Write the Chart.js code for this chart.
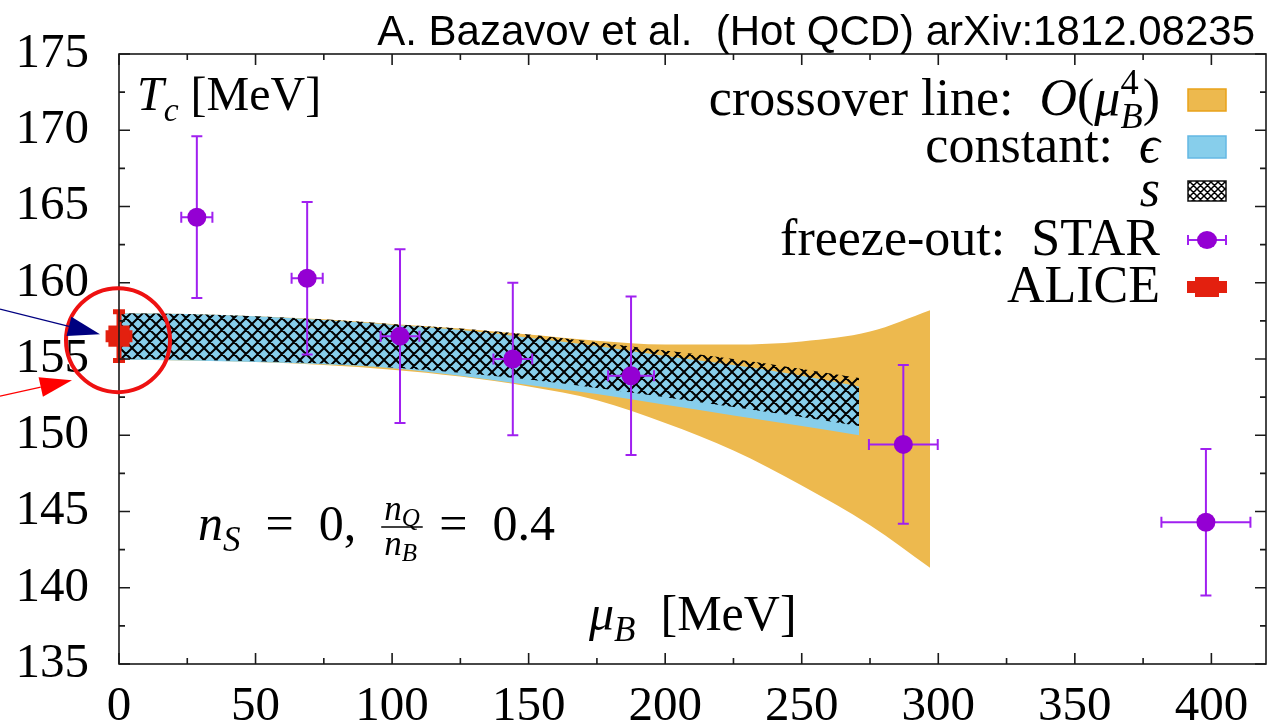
<!DOCTYPE html>
<html>
<head>
<meta charset="utf-8">
<script src="https://cdn.jsdelivr.net/npm/chart.js@4.4.0/dist/chart.umd.min.js"></script>
<style>
  html, body { margin: 0; padding: 0; background: #fff; }
  canvas { display: block; }
</style>
</head>
<body>
<canvas id="chart" width="1274" height="727"></canvas>
<script>
// axis ticks
const xTicks = [0, 50, 100, 150, 200, 250, 300, 350, 400];
const xMinor = [25, 75, 125, 175, 225, 275, 325, 375];
const yTicks = [135, 140, 145, 150, 155, 160, 165, 170, 175];
const yMinor = [137.5, 142.5, 147.5, 152.5, 157.5, 162.5, 167.5, 172.5];

// crossover line O(mu_B^4) band
const orangeMu = [0, 25, 50, 75, 100, 125, 150, 175, 200, 225, 250, 275, 297];
const orangeHi = [158.0, 157.95, 157.8, 157.6, 157.3, 157.0, 156.6, 156.2, 155.95, 155.95, 156.15, 156.8, 158.2];
const orangeLo = [154.95, 154.9, 154.8, 154.6, 154.3, 153.85, 153.2, 152.3, 150.8, 149.0, 146.7, 144.1, 141.3];

// constant epsilon and constant s bands
const bandMu = [0, 25, 50, 75, 100, 125, 150, 175, 200, 225, 250, 271];
const epsHi = [158.0, 157.95, 157.8, 157.55, 157.25, 156.9, 156.4, 155.85, 155.2, 154.6, 153.9, 153.2];
const epsLo = [154.95, 154.9, 154.8, 154.65, 154.4, 153.9, 153.3, 152.7, 152.0, 151.3, 150.6, 150.0];
const sHi = [158.0, 157.95, 157.8, 157.6, 157.3, 157.0, 156.6, 156.1, 155.55, 155.0, 154.35, 153.75];
const sLo = [155.0, 154.95, 154.85, 154.7, 154.45, 154.1, 153.65, 153.1, 152.5, 151.85, 151.2, 150.6];

// freeze-out: STAR
const starMu = [28.5, 68.9, 102.9, 144.2, 187.5, 287.2, 398.0];
const starT = [164.3, 160.3, 156.5, 155.0, 153.9, 149.4, 144.3];
const starMuErr = [5.7, 5.7, 7.1, 7.1, 8.4, 12.6, 16.3];
const starTErr = [5.3, 5.0, 5.7, 5.0, 5.2, 5.2, 4.8];

// ALICE
const aliceMu = [0];
const aliceT = [156.5];
const aliceMuErr = [4];
const aliceTErr = [1.6];

const SERIF = "'Liberation Serif', 'DejaVu Serif', serif";
const ORANGE = '#edb94e';
const BLUE = '#87ceeb';
const PURPLE = '#9400d3';
const BAR_PURPLE = '#a020f0';
const RED = '#e3200f';

const pts = (xs, ys) => xs.map((x, i) => ({ x: x, y: ys[i] }));

function makeHatch(size, lw) {
  const c = document.createElement('canvas');
  c.width = size; c.height = size;
  const g = c.getContext('2d');
  g.strokeStyle = '#000';
  g.lineWidth = lw;
  g.beginPath();
  for (const k of [-size, 0, size]) {
    g.moveTo(k, 0); g.lineTo(k + size, size);
    g.moveTo(k + size, 0); g.lineTo(k, size);
  }
  g.stroke();
  return g.createPattern(c, 'repeat');
}
const hatch = makeHatch(12, 2);

function band(data, extra) {
  return Object.assign({
    data: data,
    borderWidth: 0,
    pointRadius: 0,
    cubicInterpolationMode: 'monotone',
    fill: false
  }, extra);
}

// draw a run of pieces (italic / smaller / shifted)
function drawRuns(ctx, runs, x, base, size, align) {
  const items = runs.map(r => {
    const s = size * (r.scale || 1);
    const f = (r.it ? 'italic ' : '') + s + 'px ' + SERIF;
    ctx.font = f;
    return Object.assign({}, r, { f: f, rw: ctx.measureText(r.t).width });
  });
  let cx = 0, holdX = null, holdW = 0;
  for (const it of items) {
    if (holdX !== null) { it.x = holdX; cx = holdX + Math.max(holdW, it.rw); holdX = null; }
    else if (it.hold) { it.x = cx; holdX = cx; holdW = it.rw; }
    else { it.x = cx; cx += it.rw; }
  }
  const x0 = align === 'right' ? x - cx : x;
  ctx.textAlign = 'left';
  ctx.textBaseline = 'alphabetic';
  for (const it of items) {
    ctx.font = it.f;
    ctx.fillText(it.t, x0 + it.x, base + (it.dy || 0) * size);
  }
  return x0 + cx;
}

function arrow(ctx, x0, y0, x1, y1, color, len, half) {
  const a = Math.atan2(y1 - y0, x1 - x0);
  const bx = x1 - len * Math.cos(a), by = y1 - len * Math.sin(a);
  ctx.strokeStyle = color; ctx.fillStyle = color; ctx.lineWidth = 1.2;
  ctx.beginPath(); ctx.moveTo(x0, y0); ctx.lineTo(bx, by); ctx.stroke();
  ctx.beginPath();
  ctx.moveTo(x1, y1);
  ctx.lineTo(bx + half * Math.sin(a), by - half * Math.cos(a));
  ctx.lineTo(bx - half * Math.sin(a), by + half * Math.cos(a));
  ctx.closePath(); ctx.fill();
}

const errorBars = {
  id: 'errorBars',
  beforeDatasetDraw(chart, args) {
    const ds = chart.data.datasets[args.index];
    if (!ds.err) return;
    const { ctx } = chart;
    const x = chart.scales.x, y = chart.scales.y;
    const e = ds.err;
    ctx.save();
    ctx.strokeStyle = e.color;
    ctx.lineWidth = e.width;
    ds.data.forEach((p, i) => {
      const px = x.getPixelForValue(p.x), py = y.getPixelForValue(p.y);
      const xa = x.getPixelForValue(p.x - e.dx[i]), xb = x.getPixelForValue(p.x + e.dx[i]);
      const ya = y.getPixelForValue(p.y - e.dy[i]), yb = y.getPixelForValue(p.y + e.dy[i]);
      ctx.beginPath();
      ctx.moveTo(px, ya); ctx.lineTo(px, yb);
      ctx.moveTo(xa, py); ctx.lineTo(xb, py);
      ctx.moveTo(px - e.cap, ya); ctx.lineTo(px + e.cap, ya);
      ctx.moveTo(px - e.cap, yb); ctx.lineTo(px + e.cap, yb);
      ctx.moveTo(xa, py - e.cap); ctx.lineTo(xa, py + e.cap);
      ctx.moveTo(xb, py - e.cap); ctx.lineTo(xb, py + e.cap);
      ctx.stroke();
    });
    ctx.restore();
  }
};

const decorations = {
  id: 'decorations',
  afterDraw(chart) {
    const { ctx, chartArea: a } = chart;
    const x = chart.scales.x, y = chart.scales.y;
    ctx.save();

    // frame with inward ticks on all sides
    ctx.strokeStyle = '#1a1a1a';
    ctx.lineWidth = 1.6;
    ctx.strokeRect(a.left, a.top, a.right - a.left, a.bottom - a.top);
    ctx.beginPath();
    const xt = (v, len) => { const p = x.getPixelForValue(v);
      ctx.moveTo(p, a.bottom); ctx.lineTo(p, a.bottom - len);
      ctx.moveTo(p, a.top); ctx.lineTo(p, a.top + len); };
    const yt = (v, len) => { const p = y.getPixelForValue(v);
      ctx.moveTo(a.left, p); ctx.lineTo(a.left + len, p);
      ctx.moveTo(a.right, p); ctx.lineTo(a.right - len, p); };
    xTicks.forEach(v => xt(v, 11)); xMinor.forEach(v => xt(v, 6));
    yTicks.forEach(v => yt(v, 11)); yMinor.forEach(v => yt(v, 6));
    ctx.stroke();

    // header
    ctx.fillStyle = '#000';
    ctx.font = "42px 'Liberation Sans', Arial, sans-serif";
    ctx.textAlign = 'right'; ctx.textBaseline = 'alphabetic';
    ctx.fillText('A. Bazavov et al.  (Hot QCD) arXiv:1812.08235', 1255, 45);

    // axis labels inside the frame
    drawRuns(ctx, [{ t: 'T', it: true }, { t: 'c', it: true, scale: 0.7, dy: 0.22 }, { t: ' [MeV]' }], 137, 110, 48);
    drawRuns(ctx, [{ t: 'μ', it: true }, { t: 'B', it: true, scale: 0.7, dy: 0.22 }, { t: '  [MeV]' }], 589, 630, 50);

    // n_S = 0, n_Q / n_B = 0.4
    const fs = 50;
    let cx = drawRuns(ctx, [{ t: 'n', it: true }, { t: 'S', it: true, scale: 0.7, dy: 0.22 }, { t: '  =  0,  ' }], 198, 540, fs);
    const num = [{ t: 'n', it: true, scale: 0.7 }, { t: 'Q', it: true, scale: 0.5, dy: 0.12 }];
    const den = [{ t: 'n', it: true, scale: 0.7 }, { t: 'B', it: true, scale: 0.5, dy: 0.12 }];
    const nEnd = drawRuns(ctx, num, cx + 3, 520, fs);
    const dEnd = drawRuns(ctx, den, cx + 3, 555, fs);
    const fEnd = Math.max(nEnd, dEnd) + 3;
    ctx.lineWidth = 1.5; ctx.strokeStyle = '#000';
    ctx.beginPath(); ctx.moveTo(cx, 527); ctx.lineTo(fEnd, 527); ctx.stroke();
    drawRuns(ctx, [{ t: ' =  0.4' }], fEnd + 4, 540, fs);

    // legend
    const lx = 1160, sx0 = 1188, sx1 = 1226, ls = 52;
    const rows = [
      [{ t: 'crossover line:  ' }, { t: 'O', it: true }, { t: '(' }, { t: 'μ', it: true },
       { t: 'B', it: true, scale: 0.7, dy: 0.25, hold: true }, { t: '4', scale: 0.7, dy: -0.4 }, { t: ')' }],
      [{ t: 'constant:  ' }, { t: 'ϵ', it: true }],
      [{ t: 's', it: true }],
      [{ t: 'freeze-out:  STAR' }],
      [{ t: 'ALICE' }]
    ];
    const rowY = [100, 147, 191, 240, 287];
    rows.forEach((r, i) => { ctx.fillStyle = '#000'; drawRuns(ctx, r, lx, rowY[i] + 15, ls, 'right'); });

    const sw = (yc, fill, stroke) => {
      ctx.fillStyle = fill; ctx.fillRect(sx0, yc - 11, sx1 - sx0, 22);
      ctx.strokeStyle = stroke; ctx.lineWidth = 1.5; ctx.strokeRect(sx0, yc - 11, sx1 - sx0, 22);
    };
    sw(rowY[0], ORANGE, '#e9a21a');
    sw(rowY[1], BLUE, '#64b8e4');
    ctx.fillStyle = '#fff'; ctx.fillRect(sx0, rowY[2] - 10, sx1 - sx0, 20);
    ctx.fillStyle = makeHatch(7, 1.5); ctx.fillRect(sx0, rowY[2] - 10, sx1 - sx0, 20);
    ctx.strokeStyle = '#111'; ctx.lineWidth = 1.5; ctx.strokeRect(sx0, rowY[2] - 10, sx1 - sx0, 20);
    // STAR symbol
    const mx = (sx0 + sx1) / 2;
    ctx.strokeStyle = BAR_PURPLE; ctx.lineWidth = 2;
    ctx.beginPath();
    ctx.moveTo(sx0, rowY[3]); ctx.lineTo(sx1, rowY[3]);
    ctx.moveTo(sx0, rowY[3] - 5); ctx.lineTo(sx0, rowY[3] + 5);
    ctx.moveTo(sx1, rowY[3] - 5); ctx.lineTo(sx1, rowY[3] + 5);
    ctx.stroke();
    ctx.fillStyle = PURPLE; ctx.beginPath(); ctx.ellipse(mx, rowY[3], 10, 9, 0, 0, Math.PI * 2); ctx.fill();
    // ALICE symbol
    ctx.fillStyle = RED;
    ctx.fillRect(mx - 12, rowY[4] - 10, 24, 20);
    ctx.fillRect(sx0 - 1, rowY[4] - 6, sx1 - sx0 + 2, 12);

    // highlight around the ALICE point
    const ax = x.getPixelForValue(aliceMu[0]), ay = y.getPixelForValue(aliceT[0]);
    ctx.strokeStyle = '#ee1111'; ctx.lineWidth = 4;
    ctx.beginPath(); ctx.arc(ax - 1, ay + 4, 52, 0, Math.PI * 2); ctx.stroke();
    arrow(ctx, 0, ay - 27, ax - 19, ay - 2, '#000080', 32, 10);
    arrow(ctx, 0, ay + 60, ax - 47, ay + 44, '#ff0000', 32, 10);

    ctx.restore();
  }
};

new Chart(document.getElementById('chart'), {
  type: 'line',
  data: {
    datasets: [
      band(pts(orangeMu, orangeLo), { order: 4 }),
      band(pts(orangeMu, orangeHi), { order: 4, fill: '-1', backgroundColor: ORANGE }),
      band(pts(bandMu, epsLo), { order: 3 }),
      band(pts(bandMu, epsHi), { order: 3, fill: '-1', backgroundColor: BLUE }),
      band(pts(bandMu, sLo), { order: 2 }),
      band(pts(bandMu, sHi), { order: 2, fill: '-1', backgroundColor: hatch }),
      {
        label: 'ALICE',
        data: pts(aliceMu, aliceT),
        showLine: false,
        pointStyle: 'rect',
        pointRadius: 15,
        pointBackgroundColor: RED,
        pointBorderWidth: 0,
        clip: false,
        order: 1,
        err: { dx: aliceMuErr, dy: aliceTErr, color: RED, width: 5, cap: 6 }
      },
      {
        label: 'freeze-out: STAR',
        data: pts(starMu, starT),
        showLine: false,
        pointStyle: 'circle',
        pointRadius: 9.5,
        pointBackgroundColor: PURPLE,
        pointBorderWidth: 0,
        order: 0,
        err: { dx: starMuErr, dy: starTErr, color: BAR_PURPLE, width: 2, cap: 5.5 }
      }
    ]
  },
  options: {
    responsive: false,
    animation: false,
    devicePixelRatio: 1,
    layout: { autoPadding: false, padding: { top: 54, right: 8, left: 0, bottom: 0 } },
    plugins: { legend: { display: false }, tooltip: { enabled: false } },
    scales: {
      x: {
        type: 'linear', min: 0, max: 420,
        grid: { display: false, drawTicks: false },
        border: { display: false },
        ticks: { color: '#000', padding: 14, font: { family: SERIF, size: 49 } },
        afterBuildTicks: s => { s.ticks = xTicks.map(v => ({ value: v })); },
        afterFit: s => { s.height = 63; s.paddingLeft = 0; s.paddingRight = 0; }
      },
      y: {
        type: 'linear', min: 135, max: 175,
        grid: { display: false, drawTicks: false },
        border: { display: false },
        ticks: { color: '#000', padding: 30, font: { family: SERIF, size: 49 } },
        afterBuildTicks: s => { s.ticks = yTicks.map(v => ({ value: v })); },
        afterFit: s => { s.width = 119; s.paddingTop = 0; s.paddingBottom = 0; }
      }
    }
  },
  plugins: [errorBars, decorations]
});
</script>
</body>
</html>
